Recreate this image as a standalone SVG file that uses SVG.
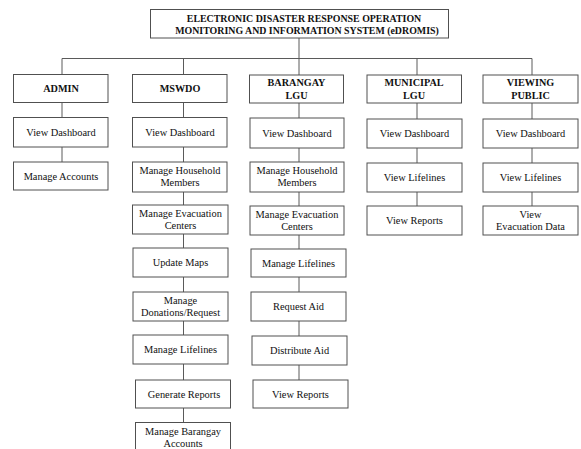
<svg xmlns="http://www.w3.org/2000/svg" width="581" height="449" viewBox="0 0 581 449">
<style>
rect{fill:#fff;stroke:#505050;stroke-width:1}
text{font-family:'Liberation Serif','DejaVu Serif',serif;font-size:10.4px;fill:#111;text-anchor:middle}
.b{font-weight:bold;font-size:10.2px}
.t{font-weight:bold;font-size:9.9px}
#connectors line{stroke:#5a5a5a;stroke-width:1}
</style>
<rect x="0" y="0" width="581" height="449" style="fill:#fff;stroke:none"/>
<g id="connectors">
<line x1="299" y1="38" x2="299" y2="58.5"/>
<line x1="62" y1="58.5" x2="532" y2="58.5"/>
<line x1="62" y1="58.5" x2="62" y2="75"/>
<line x1="183.5" y1="58.5" x2="183.5" y2="75"/>
<line x1="299" y1="58.5" x2="299" y2="75"/>
<line x1="417" y1="58.5" x2="417" y2="75"/>
<line x1="532" y1="58.5" x2="532" y2="75"/>
<line x1="62" y1="103" x2="62" y2="117"/>
<line x1="62" y1="147" x2="62" y2="162"/>
<line x1="183.5" y1="103" x2="183.5" y2="117"/>
<line x1="183.5" y1="147" x2="183.5" y2="162"/>
<line x1="183.5" y1="192" x2="183.5" y2="205"/>
<line x1="183.5" y1="234" x2="183.5" y2="248"/>
<line x1="183.5" y1="277" x2="183.5" y2="292"/>
<line x1="183.5" y1="321" x2="183.5" y2="335"/>
<line x1="183.5" y1="364" x2="183.5" y2="380"/>
<line x1="183.5" y1="408" x2="183.5" y2="422"/>
<line x1="299" y1="103" x2="299" y2="118"/>
<line x1="299" y1="148" x2="299" y2="162"/>
<line x1="299" y1="192" x2="299" y2="206"/>
<line x1="299" y1="235" x2="299" y2="249"/>
<line x1="299" y1="277" x2="299" y2="292"/>
<line x1="299" y1="321" x2="299" y2="336"/>
<line x1="299" y1="365" x2="299" y2="380"/>
<line x1="417" y1="103" x2="417" y2="119"/>
<line x1="417" y1="148" x2="417" y2="163"/>
<line x1="417" y1="192" x2="417" y2="206"/>
<line x1="532" y1="103" x2="532" y2="119"/>
<line x1="532" y1="148" x2="532" y2="163"/>
<line x1="532" y1="192" x2="532" y2="206"/>
</g>
<g id="root"><rect x="150.5" y="9.5" width="298" height="28.5"/><text class="t" x="304" y="21.5">ELECTRONIC DISASTER RESPONSE OPERATION</text><text class="t" x="307" y="33.5">MONITORING AND INFORMATION SYSTEM (eDROMIS)</text></g>
<g id="admin"><rect x="13.5" y="74.5" width="94.5" height="28"/><text class="b" x="61" y="92">ADMIN</text></g>
<g id="admin-dash"><rect x="13.5" y="117.5" width="94.5" height="29.5"/><text x="61" y="135.5">View Dashboard</text></g>
<g id="admin-acc"><rect x="13.5" y="162" width="94.5" height="28"/><text x="61" y="179.5">Manage Accounts</text></g>
<g id="mswdo"><rect x="132.5" y="74.5" width="94.5" height="28"/><text class="b" x="180" y="92">MSWDO</text></g>
<g id="mswdo-dash"><rect x="132.5" y="117.5" width="94.5" height="29.5"/><text x="180" y="135.5">View Dashboard</text></g>
<g id="mswdo-hh"><rect x="132.5" y="162" width="94.5" height="30"/><text x="180" y="174">Manage Household</text><text x="180" y="186">Members</text></g>
<g id="mswdo-evac"><rect x="132.5" y="205" width="95.5" height="29"/><text x="180.5" y="216.5">Manage Evacuation</text><text x="180.5" y="228.5">Centers</text></g>
<g id="mswdo-maps"><rect x="133" y="248" width="95" height="29"/><text x="180.5" y="266">Update Maps</text></g>
<g id="mswdo-don"><rect x="133" y="292" width="95" height="29"/><text x="180.5" y="303.5">Manage</text><text x="180.5" y="315.5">Donations/Request</text></g>
<g id="mswdo-life"><rect x="133" y="335" width="95" height="29"/><text x="180.5" y="353">Manage Lifelines</text></g>
<g id="mswdo-rep"><rect x="135.5" y="380" width="95" height="28"/><text x="184" y="397.5">Generate Reports</text></g>
<g id="mswdo-brgy"><rect x="135.5" y="422.5" width="95" height="36"/><text x="183" y="435">Manage Barangay</text><text x="183" y="447">Accounts</text></g>
<g id="brgy"><rect x="249.5" y="75" width="94" height="28"/><text class="b" x="296.5" y="86">BARANGAY</text><text class="b" x="296.5" y="98.5">LGU</text></g>
<g id="brgy-dash"><rect x="250" y="118" width="94" height="30"/><text x="297" y="136.5">View Dashboard</text></g>
<g id="brgy-hh"><rect x="250" y="162" width="94" height="30"/><text x="297" y="174">Manage Household</text><text x="297" y="186">Members</text></g>
<g id="brgy-evac"><rect x="250" y="206" width="94" height="29"/><text x="297" y="217.5">Manage Evacuation</text><text x="297" y="229.5">Centers</text></g>
<g id="brgy-life"><rect x="251" y="249" width="95" height="28"/><text x="298.5" y="266.5">Manage Lifelines</text></g>
<g id="brgy-req"><rect x="251" y="292" width="95" height="29"/><text x="298.5" y="310">Request Aid</text></g>
<g id="brgy-dist"><rect x="252" y="336" width="95" height="29"/><text x="299.5" y="354">Distribute Aid</text></g>
<g id="brgy-rep"><rect x="253" y="380" width="95" height="28"/><text x="300.5" y="397.5">View Reports</text></g>
<g id="muni"><rect x="367" y="75" width="94.5" height="28"/><text class="b" x="414" y="86">MUNICIPAL</text><text class="b" x="414" y="98.5">LGU</text></g>
<g id="muni-dash"><rect x="367" y="119" width="95" height="29"/><text x="414.5" y="137">View Dashboard</text></g>
<g id="muni-life"><rect x="367" y="163" width="95" height="29"/><text x="414.5" y="181">View Lifelines</text></g>
<g id="muni-rep"><rect x="367" y="206" width="95" height="29"/><text x="414.5" y="224">View Reports</text></g>
<g id="public"><rect x="483" y="75" width="95" height="28"/><text class="b" x="530.5" y="86">VIEWING</text><text class="b" x="530.5" y="98.5">PUBLIC</text></g>
<g id="public-dash"><rect x="483" y="119" width="95" height="29"/><text x="530.5" y="137">View Dashboard</text></g>
<g id="public-life"><rect x="483" y="163" width="95" height="29"/><text x="530.5" y="181">View Lifelines</text></g>
<g id="public-evac"><rect x="483" y="206" width="95" height="29"/><text x="530.5" y="217.5">View</text><text x="530.5" y="229.5">Evacuation Data</text></g>
</svg>
